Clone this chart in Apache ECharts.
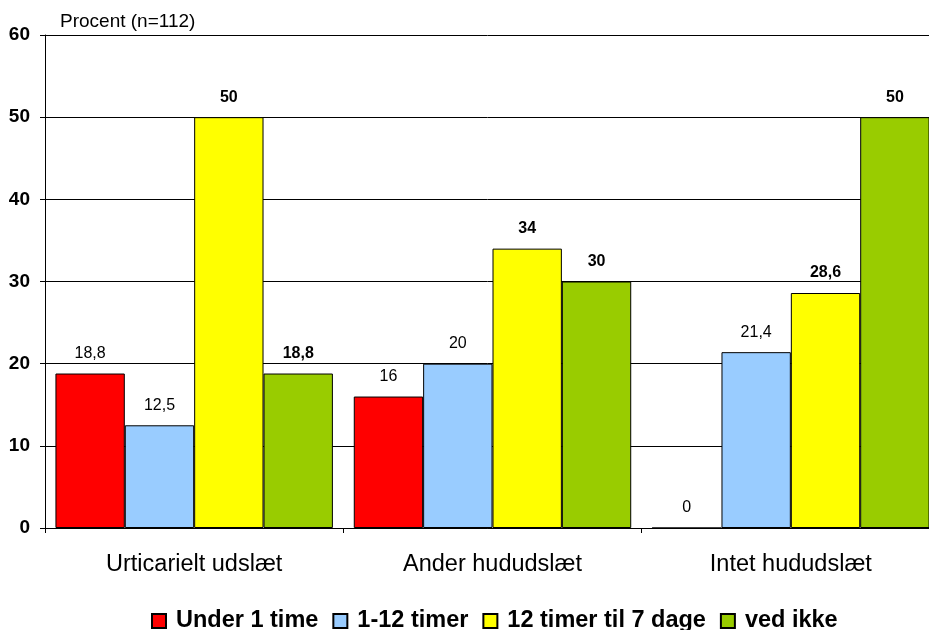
<!DOCTYPE html>
<html>
<head>
<meta charset="utf-8">
<script src="https://cdn.jsdelivr.net/npm/echarts@6/dist/echarts.min.js"></script>
<style>html,body{margin:0;padding:0;background:#fff}#c{width:929px;height:630px}</style>
</head>
<body>
<div id="c"></div>
<script>
const categories = ["Urticarielt udslæt", "Ander hududslæt", "Intet hududslæt"];
const seriesNames = ["Under 1 time", "1-12 timer", "12 timer til 7 dage", "ved ikke"];
const under1 = [18.8, 16, 0];
const t1to12 = [12.5, 20, 21.4];
const t12to7 = [50, 34, 28.6];
const vedIkke = [18.8, 30, 50];
const colors = ["#ff0000", "#99ccff", "#ffff00", "#99cc00"];
const boldLabels = [false, false, true, true];
const dataSets = [under1, t1to12, t12to7, vedIkke];
const yTicks = {min: 0, max: 60, interval: 10};

const font = "Liberation Sans, Arial, sans-serif";
const chart = echarts.init(document.getElementById('c'), null, {renderer: 'canvas'});
chart.setOption({
  animation: false,
  backgroundColor: '#fff',
  title: {
    text: 'Procent (n=112)', left: 60, top: 12, padding: 0,
    textStyle: {fontFamily: font, fontSize: 19, fontWeight: 'normal', color: '#000'}
  },
  grid: {left: 45, top: 35, width: 895, bottom: 102, containLabel: false, outerBoundsMode: 'none'},
  legend: {
    data: seriesNames, left: 151, top: 609, padding: 0, icon: 'rect', itemWidth: 14, itemHeight: 14, itemGap: 14,
    textStyle: {fontFamily: font, fontSize: 23.5, fontWeight: 'bold', color: '#000', padding: [0,0,0,5]}
  },
  xAxis: {
    type: 'category', data: categories,
    axisLine: {lineStyle: {color: '#000', width: 1}},
    axisTick: {show: true, length: 5, lineStyle: {color: '#000'}},
    axisLabel: {fontFamily: font, fontSize: 23.5, color: '#000', margin: 25}
  },
  yAxis: {
    type: 'value', min: yTicks.min, max: yTicks.max, interval: yTicks.interval,
    axisLine: {show: true, lineStyle: {color: '#000', width: 1}},
    axisTick: {show: true, length: 5, lineStyle: {color: '#000'}},
    splitLine: {show: true, lineStyle: {color: '#000', width: 1}},
    axisLabel: {fontFamily: font, fontSize: 19, fontWeight: 'bold', color: '#000', margin: 15}
  },
  series: dataSets.map((d, i) => ({
    name: seriesNames[i], type: 'bar', data: d,
    barGap: 0, barCategoryGap: '7%',
    itemStyle: {color: colors[i], borderColor: '#000', borderWidth: 1},
    label: {
      show: true, position: 'top', distance: 12,
      fontFamily: font, fontSize: 16, color: '#000',
      fontWeight: boldLabels[i] ? 'bold' : 'normal',
      formatter: p => String(p.value).replace('.', ',')
    }
  }))
});
</script>
</body>
</html>
